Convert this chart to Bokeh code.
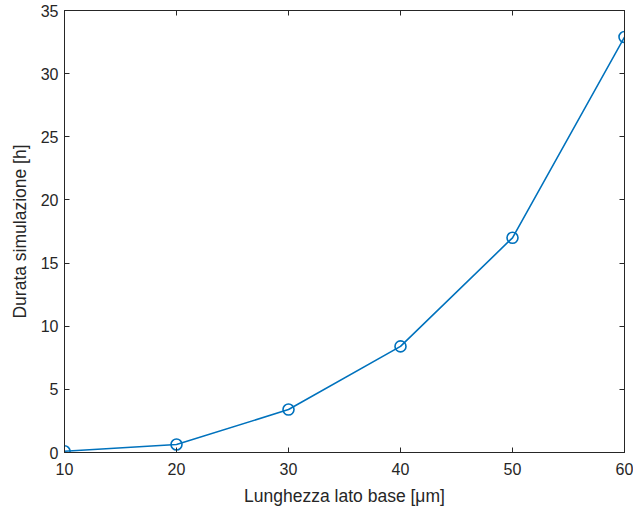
from bokeh.plotting import figure
from bokeh.models import LinearAxis, FixedTicker, Range1d, CustomLabelingPolicy
from bokeh.embed import file_html
from bokeh.resources import INLINE

lato_base = [10, 20, 30, 40, 50, 60]
durata_h = [0.1, 0.63, 3.4, 8.4, 17.0, 32.9]
x_ticks = [10, 20, 30, 40, 50, 60]
y_ticks = [0, 5, 10, 15, 20, 25, 30, 35]

AX = "#262626"
BLUE = "#0072BD"
FONT = "Liberation Sans"

p = figure(width=633, height=513, output_backend="svg", toolbar_location=None,
           x_range=Range1d(10, 60), y_range=Range1d(0, 35),
           min_border_left=64, min_border_right=9, min_border_top=10, min_border_bottom=61,
           x_axis_label="Lunghezza lato base [μm]", y_axis_label="Durata simulazione [h]")
p.grid.visible = False
p.outline_line_color = AX
p.outline_line_width = 1
p.background_fill_color = "white"
p.border_fill_color = "white"

for ax, ticks in ((p.xaxis[0], x_ticks), (p.yaxis[0], y_ticks)):
    ax.ticker = FixedTicker(ticks=ticks)
    ax.axis_line_color = AX
    ax.major_tick_line_color = AX
    ax.major_tick_in = 5
    ax.major_tick_out = 0
    ax.minor_tick_line_color = None
    ax.major_label_text_font = FONT
    ax.major_label_text_font_size = "16px"
    ax.major_label_text_color = AX
    ax.axis_label_text_font = FONT
    ax.axis_label_text_font_size = "17.5px"
    ax.axis_label_text_font_style = "normal"
    ax.axis_label_text_color = AX
p.xaxis[0].major_label_standoff = 10
p.xaxis[0].axis_label_standoff = 8
p.yaxis[0].major_label_standoff = 6
p.yaxis[0].axis_label_standoff = 8

# mirrored inward ticks on top and right, with no labels
def mirror_axis(ticks):
    return LinearAxis(ticker=FixedTicker(ticks=ticks),
                      major_label_policy=CustomLabelingPolicy(code="return []"),
                      major_label_text_font_size="1px", major_label_standoff=0,
                      major_tick_in=5, major_tick_out=0, minor_tick_line_color=None,
                      axis_line_color=AX, major_tick_line_color=AX)

p.add_layout(mirror_axis(x_ticks), "above")
p.add_layout(mirror_axis(y_ticks), "right")

p.line(lato_base, durata_h, line_color=BLUE, line_width=1.6)
p.scatter(lato_base, durata_h, marker="circle", size=11, fill_color=None,
          line_color=BLUE, line_width=1.6)

open("out.html", "w").write(file_html(p, INLINE))
